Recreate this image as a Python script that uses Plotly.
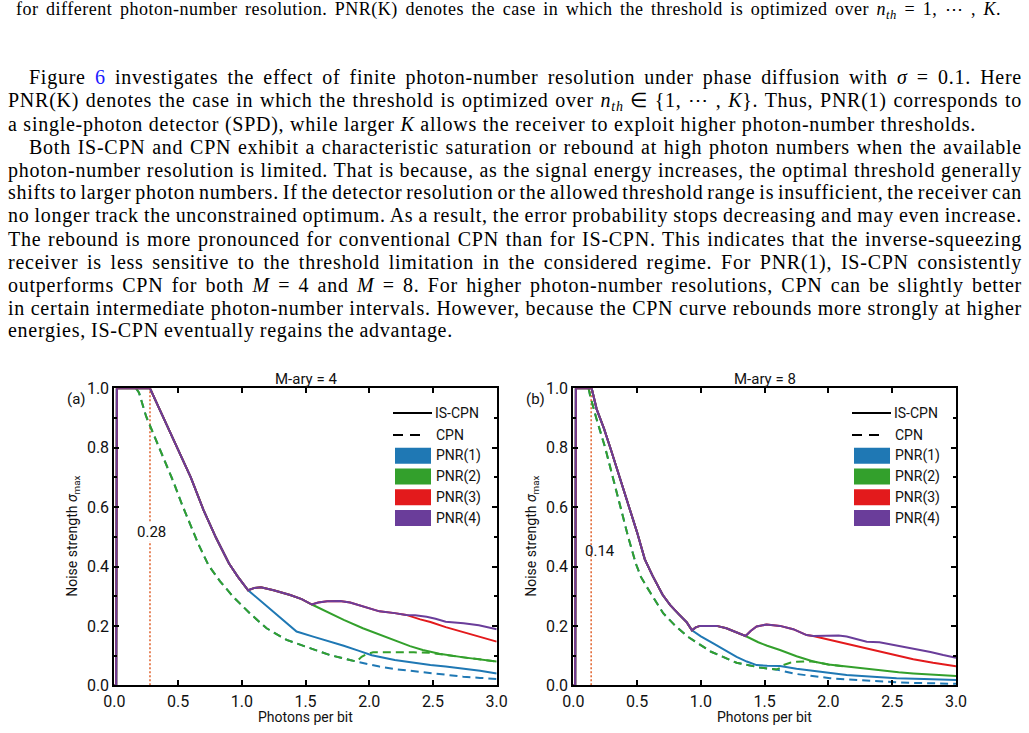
import json
import plotly.graph_objects as go

W, H = 1029, 733

# ---------------------------------------------------------------- page text
CAPTION = ("for different photon-number resolution. PNR(K) denotes the case in which the "
           "threshold is optimized over <i>n<sub>th</sub></i> = 1, ⋯ , <i>K</i>.")
BODY_LINES = [
    "Figure <span style='color:#1a1aff'>6</span> investigates the effect of finite photon-number resolution under phase diffusion with <i>σ</i> = 0.1. Here",
    "PNR(K) denotes the case in which the threshold is optimized over <i>n<sub>th</sub></i> ∈ {1, ⋯ , <i>K</i>}. Thus, PNR(1) corresponds to",
    "a single-photon detector (SPD), while larger <i>K</i> allows the receiver to exploit higher photon-number thresholds.",
    "Both IS-CPN and CPN exhibit a characteristic saturation or rebound at high photon numbers when the available",
    "photon-number resolution is limited. That is because, as the signal energy increases, the optimal threshold generally",
    "shifts to larger photon numbers. If the detector resolution or the allowed threshold range is insufficient, the receiver can",
    "no longer track the unconstrained optimum. As a result, the error probability stops decreasing and may even increase.",
    "The rebound is more pronounced for conventional CPN than for IS-CPN. This indicates that the inverse-squeezing",
    "receiver is less sensitive to the threshold limitation in the considered regime. For PNR(1), IS-CPN consistently",
    "outperforms CPN for both <i>M</i> = 4 and <i>M</i> = 8. For higher photon-number resolutions, CPN can be slightly better",
    "in certain intermediate photon-number intervals. However, because the CPN curve rebounds more strongly at higher",
    "energies, IS-CPN eventually regains the advantage.",
]
INDENTED = [0, 3]
LINE_ENDS = {2: 975, 11: 452}
CALIBRATION_LINE = 2   # a paragraph's last line: set with natural spacing

# ---------------------------------------------------------------- chart labels
PANEL_TITLES = ["M-ary = 4", "M-ary = 8"]
PANEL_TAGS = ["(a)", "(b)"]
X_TITLE = "Photons per bit"
Y_TITLE = "Noise strength <i>σ</i><sub>max</sub>"
LEGEND_LINES = ["IS-CPN", "CPN"]
PNR_NAMES = ["PNR(1)", "PNR(2)", "PNR(3)", "PNR(4)"]
PNR_COLORS = ["#1f78b4", "#33a02c", "#e31a1c", "#6a3d9a"]
THRESH_X = [0.28, 0.14]
THRESH_LABELS = ["0.28", "0.14"]

# ---------------------------------------------------------------- data (a) M=4
A_IS_COMMON_X = [0.0, 0.015, 0.02, 0.28, 0.36, 0.44, 0.52, 0.60, 0.70, 0.80, 0.90, 0.97, 1.05]
A_IS_COMMON_Y = [0.0, 0.0, 1.0, 1.0, 0.925, 0.85, 0.775, 0.70, 0.59, 0.495, 0.41, 0.365, 0.32]
A_IS_P1_X = [1.05, 1.15, 1.25, 1.35, 1.43, 1.56, 1.68, 1.80, 1.92, 2.02, 2.20, 2.33, 2.48, 2.60, 2.74, 2.87, 3.0]
A_IS_P1_Y = [0.32, 0.283, 0.245, 0.208, 0.181, 0.164, 0.149, 0.133, 0.116, 0.101, 0.085, 0.076, 0.068, 0.063, 0.057, 0.049, 0.040]
A_IS_P234_X = [1.05, 1.10, 1.15, 1.25, 1.38, 1.47, 1.55]
A_IS_P234_Y = [0.32, 0.328, 0.330, 0.320, 0.304, 0.290, 0.272]
A_IS_P2_X = [1.55, 1.69, 1.80, 1.95, 2.10, 2.22, 2.32, 2.42, 2.55, 2.74, 2.87, 3.0]
A_IS_P2_Y = [0.272, 0.242, 0.220, 0.192, 0.167, 0.147, 0.132, 0.119, 0.106, 0.094, 0.088, 0.080]
A_IS_P34_X = [1.55, 1.60, 1.67, 1.77, 1.85, 1.92, 2.0, 2.08, 2.20, 2.29]
A_IS_P34_Y = [0.272, 0.279, 0.283, 0.284, 0.279, 0.270, 0.258, 0.249, 0.243, 0.237]
A_IS_P3_X = [2.29, 2.40, 2.48, 2.60, 2.74, 2.87, 3.0]
A_IS_P3_Y = [0.237, 0.222, 0.213, 0.196, 0.179, 0.163, 0.147]
A_IS_P4_X = [2.29, 2.36, 2.45, 2.52, 2.60, 2.74, 2.86, 3.0]
A_IS_P4_Y = [0.237, 0.236, 0.231, 0.224, 0.214, 0.209, 0.202, 0.189]
A_CPN_COMMON_X = [0.17, 0.194, 0.25, 0.333, 0.40, 0.463, 0.53, 0.594, 0.66, 0.738, 0.83, 0.933, 1.064, 1.195, 1.352, 1.535, 1.69, 1.848, 1.90]
A_CPN_COMMON_Y = [1.0, 0.985, 0.905, 0.82, 0.745, 0.686, 0.61, 0.545, 0.475, 0.405, 0.35, 0.298, 0.242, 0.192, 0.153, 0.125, 0.102, 0.085, 0.080]
A_CPN_P1_X = [1.90, 1.953, 2.08, 2.215, 2.35, 2.476, 2.60, 2.737, 2.87, 3.0]
A_CPN_P1_Y = [0.080, 0.074, 0.063, 0.054, 0.047, 0.040, 0.034, 0.029, 0.025, 0.021]
A_CPN_P2_X = [1.90, 1.94, 1.98, 2.03, 2.20, 2.35, 2.47, 2.55, 2.74, 3.0]
A_CPN_P2_Y = [0.080, 0.096, 0.105, 0.111, 0.112, 0.111, 0.110, 0.106, 0.094, 0.080]

# ---------------------------------------------------------------- data (b) M=8
B_IS_COMMON_X = [0.0, 0.015, 0.02, 0.144, 0.183, 0.24, 0.29, 0.36, 0.44, 0.50, 0.56, 0.62, 0.70, 0.76, 0.83, 0.89, 0.93]
B_IS_COMMON_Y = [0.0, 0.0, 1.0, 1.0, 0.93, 0.865, 0.80, 0.705, 0.60, 0.515, 0.425, 0.37, 0.305, 0.27, 0.238, 0.212, 0.185]
B_IS_P1_X = [0.93, 1.0, 1.097, 1.19, 1.28, 1.36, 1.437, 1.52, 1.62, 1.75, 1.881, 2.0, 2.143, 2.35, 2.534, 2.75, 3.0]
B_IS_P1_Y = [0.185, 0.165, 0.141, 0.118, 0.096, 0.080, 0.068, 0.066, 0.065, 0.056, 0.049, 0.042, 0.035, 0.029, 0.024, 0.021, 0.018]
B_IS_P234_X = [0.93, 0.96, 0.993, 1.05, 1.124, 1.20, 1.28, 1.35]
B_IS_P234_Y = [0.185, 0.195, 0.200, 0.201, 0.200, 0.192, 0.178, 0.166]
B_IS_P2_X = [1.35, 1.45, 1.52, 1.62, 1.75, 1.881, 2.0, 2.143, 2.30, 2.404, 2.55, 2.665, 2.85, 3.0]
B_IS_P2_Y = [0.166, 0.145, 0.133, 0.119, 0.098, 0.080, 0.070, 0.063, 0.055, 0.049, 0.044, 0.040, 0.035, 0.031]
B_IS_P34_X = [1.35, 1.39, 1.437, 1.515, 1.62, 1.724, 1.829, 1.88]
B_IS_P34_Y = [0.166, 0.183, 0.198, 0.205, 0.200, 0.189, 0.169, 0.166]
B_IS_P3_X = [1.88, 2.0, 2.143, 2.27, 2.404, 2.53, 2.665, 2.82, 3.0]
B_IS_P3_Y = [0.166, 0.154, 0.141, 0.126, 0.113, 0.100, 0.088, 0.076, 0.064]
B_IS_P4_X = [1.88, 1.95, 2.012, 2.08, 2.143, 2.22, 2.30, 2.40, 2.50, 2.665, 2.80, 2.90, 3.0]
B_IS_P4_Y = [0.166, 0.167, 0.169, 0.168, 0.164, 0.155, 0.147, 0.145, 0.137, 0.125, 0.112, 0.102, 0.093]
B_CPN_COMMON_X = [0.12, 0.131, 0.18, 0.25, 0.31, 0.37, 0.43, 0.49, 0.53, 0.575, 0.64, 0.706, 0.80, 0.90, 1.08, 1.28, 1.46, 1.59]
B_CPN_COMMON_Y = [1.0, 0.977, 0.90, 0.80, 0.70, 0.60, 0.50, 0.41, 0.365, 0.332, 0.285, 0.242, 0.20, 0.163, 0.113, 0.076, 0.060, 0.053]
B_CPN_P1_X = [1.59, 1.75, 1.88, 2.012, 2.14, 2.273, 2.40, 2.534, 2.67, 2.80, 3.0]
B_CPN_P1_Y = [0.053, 0.038, 0.030, 0.024, 0.020, 0.016, 0.013, 0.010, 0.008, 0.007, 0.005]
B_CPN_P2_X = [1.59, 1.62, 1.646, 1.70, 1.75, 1.82, 1.881, 2.0, 2.143]
B_CPN_P2_Y = [0.053, 0.058, 0.068, 0.076, 0.079, 0.080, 0.080, 0.070, 0.063]


def join(*parts):
    xs, ys = [], []
    for px_, py_ in parts:
        if xs and xs[-1] == px_[0]:
            xs += px_[1:]
            ys += py_[1:]
        else:
            xs += px_
            ys += py_
    return xs, ys


PANELS = [
    dict(
        is_curves=[
            join((A_IS_COMMON_X, A_IS_COMMON_Y), (A_IS_P1_X, A_IS_P1_Y)),
            join((A_IS_COMMON_X, A_IS_COMMON_Y), (A_IS_P234_X, A_IS_P234_Y), (A_IS_P2_X, A_IS_P2_Y)),
            join((A_IS_COMMON_X, A_IS_COMMON_Y), (A_IS_P234_X, A_IS_P234_Y), (A_IS_P34_X, A_IS_P34_Y), (A_IS_P3_X, A_IS_P3_Y)),
            join((A_IS_COMMON_X, A_IS_COMMON_Y), (A_IS_P234_X, A_IS_P234_Y), (A_IS_P34_X, A_IS_P34_Y), (A_IS_P4_X, A_IS_P4_Y)),
        ],
        cpn_curves=[
            join((A_CPN_COMMON_X, A_CPN_COMMON_Y), (A_CPN_P1_X, A_CPN_P1_Y)),
            join((A_CPN_COMMON_X, A_CPN_COMMON_Y), (A_CPN_P2_X, A_CPN_P2_Y)),
        ],
    ),
    dict(
        is_curves=[
            join((B_IS_COMMON_X, B_IS_COMMON_Y), (B_IS_P1_X, B_IS_P1_Y)),
            join((B_IS_COMMON_X, B_IS_COMMON_Y), (B_IS_P234_X, B_IS_P234_Y), (B_IS_P2_X, B_IS_P2_Y)),
            join((B_IS_COMMON_X, B_IS_COMMON_Y), (B_IS_P234_X, B_IS_P234_Y), (B_IS_P34_X, B_IS_P34_Y), (B_IS_P3_X, B_IS_P3_Y)),
            join((B_IS_COMMON_X, B_IS_COMMON_Y), (B_IS_P234_X, B_IS_P234_Y), (B_IS_P34_X, B_IS_P34_Y), (B_IS_P4_X, B_IS_P4_Y)),
        ],
        cpn_curves=[
            join((B_CPN_COMMON_X, B_CPN_COMMON_Y), (B_CPN_P1_X, B_CPN_P1_Y)),
            join((B_CPN_COMMON_X, B_CPN_COMMON_Y), (B_CPN_P2_X, B_CPN_P2_Y)),
        ],
    ),
]


# ---------------------------------------------------------------- layout helpers
def fx(p):
    return p / W


def fy(p):
    return 1 - p / H


AX_LEFT = [114.3, 573.3]
AX_RIGHT = [496.7, 956.0]
AX_TOP, AX_BOT = 388.3, 685.3
SANS = "Roboto"
SERIF = "Liberation Serif"
INK = "#111111"

fig = go.Figure()

for i, panel in enumerate(PANELS):
    xa = "x" if i == 0 else "x2"
    ya = "y" if i == 0 else "y2"
    fig.add_trace(go.Scatter(x=[THRESH_X[i], THRESH_X[i]], y=[0, 1], mode="lines",
                             line=dict(color="#e0602a", width=1.5, dash="2px,2px"),
                             xaxis=xa, yaxis=ya, showlegend=False, hoverinfo="skip"))
    for k, (cx, cy) in enumerate(panel["cpn_curves"]):
        fig.add_trace(go.Scatter(x=cx, y=cy, mode="lines",
                                 line=dict(color=PNR_COLORS[k], width=2, dash="8px,5px"),
                                 xaxis=xa, yaxis=ya, showlegend=False, name="CPN " + PNR_NAMES[k]))
    for k, (cx, cy) in enumerate(panel["is_curves"]):
        fig.add_trace(go.Scatter(x=cx, y=cy, mode="lines",
                                 line=dict(color=PNR_COLORS[k], width=2),
                                 xaxis=xa, yaxis=ya, showlegend=False, name="IS-CPN " + PNR_NAMES[k]))

axis_common = dict(showline=True, linecolor="black", linewidth=2, mirror="ticks",
                   ticks="inside", tickcolor="black", tickwidth=1.5, ticklen=5,
                   showgrid=False, zeroline=False, tickformat=".1f", automargin=False,
                   tickfont=dict(family=SANS, size=16, color=INK))

for i in range(2):
    sfx = "" if i == 0 else "2"
    fig.layout["xaxis" + sfx] = dict(axis_common, domain=[fx(AX_LEFT[i]), fx(AX_RIGHT[i])],
                                     range=[0, 3], tick0=0, dtick=0.5,
                                     anchor="y" + sfx)
    fig.layout["yaxis" + sfx] = dict(axis_common, domain=[fy(AX_BOT), fy(AX_TOP)],
                                     range=[0, 1], tick0=0, dtick=0.2,
                                     anchor="x" + sfx,
                                     minor=dict(ticks="inside", ticklen=3, dtick=0.1,
                                                tickcolor="black", tickwidth=1.5))

annotations = []
shapes = []
justify_targets = {}


def add_text(text, x, y, size, family, xanchor="center", yanchor="middle", **kw):
    annotations.append(dict(text=text, x=fx(x), y=fy(y), xref="paper", yref="paper",
                            xanchor=xanchor, yanchor=yanchor, showarrow=False,
                            borderpad=0, font=dict(family=family, size=size, color=kw.pop("color", INK)),
                            **kw))
    return len(annotations) - 1


caption_idx = add_text(CAPTION, 15, 10, 18, SERIF, xanchor="left", align="left", color="black")
caption_target = 1000 - 15

calib_idx = None
for n, line in enumerate(BODY_LINES):
    left = 28 if n in INDENTED else 7
    right = LINE_ENDS.get(n, 1021)
    idx = add_text(line, left, 78 + 23 * n, 20, SERIF, xanchor="left", align="left", color="black")
    justify_targets[idx] = right - left
    if n == CALIBRATION_LINE:
        calib_idx = idx

for i in range(2):
    cx = (AX_LEFT[i] + AX_RIGHT[i]) / 2
    shift = AX_LEFT[i] - AX_LEFT[0]
    add_text(PANEL_TITLES[i], cx, 379, 15, SANS)
    add_text(PANEL_TAGS[i], 76 + shift, 399, 15, SANS)
    add_text(X_TITLE, cx, 717, 14, SANS)
    add_text(Y_TITLE, 73 + shift, (AX_TOP + AX_BOT) / 2, 14, SANS, textangle=-90)
    shapes.append(dict(type="line", xref="paper", yref="paper", x0=fx(393 + shift), x1=fx(432 + shift),
                       y0=fy(413), y1=fy(413), line=dict(color="black", width=2)))
    shapes.append(dict(type="line", xref="paper", yref="paper", x0=fx(393 + shift), x1=fx(425 + shift),
                       y0=fy(435), y1=fy(435), line=dict(color="black", width=2, dash="10px,7px")))
    add_text(LEGEND_LINES[0], 434 + shift, 413, 14, SANS, xanchor="left")
    add_text(LEGEND_LINES[1], 435 + shift, 435, 14, SANS, xanchor="left")
    for k in range(4):
        y0 = 447.7 + 20.8 * k
        shapes.append(dict(type="rect", xref="paper", yref="paper", x0=fx(395 + shift), x1=fx(431 + shift),
                           y0=fy(y0), y1=fy(y0 + 16), line=dict(width=0), fillcolor=PNR_COLORS[k]))
        add_text(PNR_NAMES[k], 435 + shift, y0 + 8, 14, SANS, xanchor="left")
    annotations.append(dict(text=THRESH_LABELS[i], x=[0.288, 0.207][i], y=[0.517, 0.452][i],
                            xref="x" if i == 0 else "x2", yref="y" if i == 0 else "y2",
                            showarrow=False, bgcolor="white" if i == 0 else "rgba(0,0,0,0)",
                            borderpad=0, font=dict(family=SANS, size=15, color=INK)))

fig.update_layout(width=W, height=H, margin=dict(l=0, r=0, t=0, b=0, pad=0, autoexpand=False),
                  paper_bgcolor="white", plot_bgcolor="white",
                  annotations=annotations, shapes=shapes, showlegend=False)

JS = """
var gd = document.getElementById('{plot_id}');
var T = %s;
var CAL = '%d';
var CAP = '%d';
var CAPW = %f;
function txt(k){
  var g = gd.querySelector('g.annotation[data-index="' + k + '"]');
  return g ? g.querySelector('text.annotation-text') : null;
}
function wid(t){ return t.getBoundingClientRect().width; }
function nsp(t){ return (t.textContent.match(/[ \\u00a0]/g) || []).length; }
function fit(t, target, ls){
  t.style.letterSpacing = ls + 'px';
  var n = nsp(t);
  var ws = 0;
  t.style.wordSpacing = '0px';
  if (n === 0) return;
  for (var it = 0; it < 4; it++){
    t.style.wordSpacing = ws + 'px';
    ws += (target - wid(t)) / n;
  }
  t.style.wordSpacing = ws + 'px';
}
function just(){
  var ls = 0;
  var c = txt(CAL);
  if (c){
    c.style.wordSpacing = '0px';
    var nc = c.getNumberOfChars();
    for (var it = 0; it < 3; it++){
      c.style.letterSpacing = ls + 'px';
      ls += (T[CAL] - wid(c)) / nc;
    }
    ls = Math.max(-0.5, Math.min(1.5, ls));
  }
  Object.keys(T).forEach(function(k){
    var t = txt(k);
    if (t) fit(t, T[k], ls);
  });
  var cp = txt(CAP);
  if (cp){
    cp.style.letterSpacing = '0px';
    cp.style.wordSpacing = '0px';
    var w0 = wid(cp);
    var lc = (CAPW - w0 - 2.5 * nsp(cp)) / cp.getNumberOfChars();
    lc = Math.max(-0.5, Math.min(1.2, lc));
    fit(cp, CAPW, lc);
  }
}
just();
if (document.fonts && document.fonts.ready) { document.fonts.ready.then(just); }
setTimeout(just, 200);
""" % (json.dumps({str(k): v for k, v in justify_targets.items()}), calib_idx, caption_idx, caption_target)

fig.write_html("out.html", post_script=JS)
